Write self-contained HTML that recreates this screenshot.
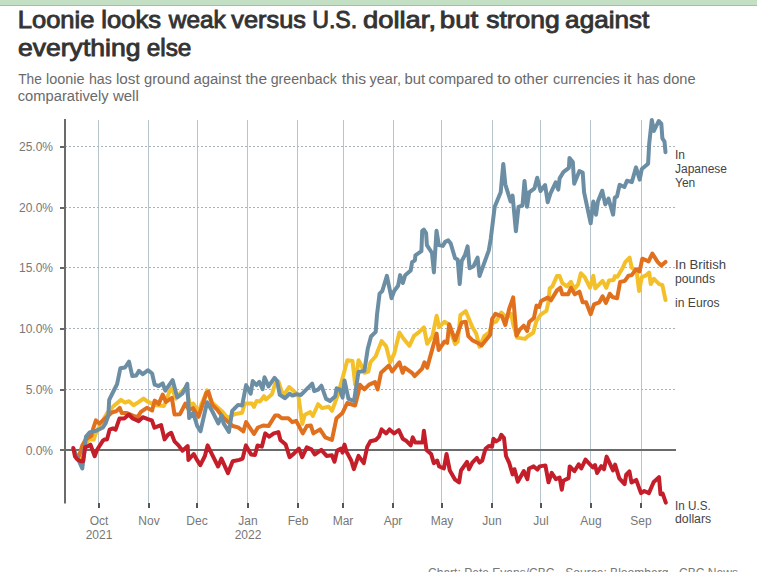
<!DOCTYPE html>
<html><head><meta charset="utf-8"><style>
html,body{margin:0;padding:0;background:#fff;}
body{width:757px;height:572px;overflow:hidden;position:relative;font-family:"Liberation Sans",sans-serif;}
.bar{position:absolute;left:0;top:0;width:757px;height:5px;background:#c4e0c4;border-bottom:1px solid #a9baa9;}
svg{position:absolute;left:0;top:0;}
text{font-family:"Liberation Sans",sans-serif;}
</style></head><body>
<div class="bar"></div>
<svg width="757" height="572" viewBox="0 0 757 572">
<line x1="98.5" y1="120" x2="98.5" y2="503" stroke="#b6c4cd" stroke-width="1"/>
<line x1="99" y1="503" x2="99" y2="508" stroke="#555" stroke-width="2"/>
<line x1="148.5" y1="120" x2="148.5" y2="503" stroke="#b6c4cd" stroke-width="1"/>
<line x1="149" y1="503" x2="149" y2="508" stroke="#555" stroke-width="2"/>
<line x1="197.5" y1="120" x2="197.5" y2="503" stroke="#b6c4cd" stroke-width="1"/>
<line x1="197" y1="503" x2="197" y2="508" stroke="#555" stroke-width="2"/>
<line x1="247.5" y1="120" x2="247.5" y2="503" stroke="#b6c4cd" stroke-width="1"/>
<line x1="248" y1="503" x2="248" y2="508" stroke="#555" stroke-width="2"/>
<line x1="297.5" y1="120" x2="297.5" y2="503" stroke="#b6c4cd" stroke-width="1"/>
<line x1="298" y1="503" x2="298" y2="508" stroke="#555" stroke-width="2"/>
<line x1="343.5" y1="120" x2="343.5" y2="503" stroke="#b6c4cd" stroke-width="1"/>
<line x1="343" y1="503" x2="343" y2="508" stroke="#555" stroke-width="2"/>
<line x1="393.5" y1="120" x2="393.5" y2="503" stroke="#b6c4cd" stroke-width="1"/>
<line x1="393" y1="503" x2="393" y2="508" stroke="#555" stroke-width="2"/>
<line x1="441.5" y1="120" x2="441.5" y2="503" stroke="#b6c4cd" stroke-width="1"/>
<line x1="442" y1="503" x2="442" y2="508" stroke="#555" stroke-width="2"/>
<line x1="492.5" y1="120" x2="492.5" y2="503" stroke="#b6c4cd" stroke-width="1"/>
<line x1="492" y1="503" x2="492" y2="508" stroke="#555" stroke-width="2"/>
<line x1="540.5" y1="120" x2="540.5" y2="503" stroke="#b6c4cd" stroke-width="1"/>
<line x1="541" y1="503" x2="541" y2="508" stroke="#555" stroke-width="2"/>
<line x1="590.5" y1="120" x2="590.5" y2="503" stroke="#b6c4cd" stroke-width="1"/>
<line x1="591" y1="503" x2="591" y2="508" stroke="#555" stroke-width="2"/>
<line x1="641.5" y1="120" x2="641.5" y2="503" stroke="#b6c4cd" stroke-width="1"/>
<line x1="641" y1="503" x2="641" y2="508" stroke="#555" stroke-width="2"/>
<line x1="65" y1="389.5" x2="675" y2="389.5" stroke="#a6b5bd" stroke-width="1" stroke-dasharray="2,2"/>
<line x1="60" y1="390.0" x2="65" y2="390.0" stroke="#666" stroke-width="2"/>
<line x1="65" y1="328.5" x2="675" y2="328.5" stroke="#a6b5bd" stroke-width="1" stroke-dasharray="2,2"/>
<line x1="60" y1="329.0" x2="65" y2="329.0" stroke="#666" stroke-width="2"/>
<line x1="65" y1="267.5" x2="675" y2="267.5" stroke="#a6b5bd" stroke-width="1" stroke-dasharray="2,2"/>
<line x1="60" y1="268.0" x2="65" y2="268.0" stroke="#666" stroke-width="2"/>
<line x1="65" y1="207.5" x2="675" y2="207.5" stroke="#a6b5bd" stroke-width="1" stroke-dasharray="2,2"/>
<line x1="60" y1="208.0" x2="65" y2="208.0" stroke="#666" stroke-width="2"/>
<line x1="65" y1="146.5" x2="675" y2="146.5" stroke="#a6b5bd" stroke-width="1" stroke-dasharray="2,2"/>
<line x1="60" y1="147.0" x2="65" y2="147.0" stroke="#666" stroke-width="2"/>
<line x1="65" y1="119" x2="65" y2="503.5" stroke="#6b6b6b" stroke-width="2"/>
<line x1="60" y1="450" x2="676" y2="450" stroke="#6b6b6b" stroke-width="2"/>
<polyline points="79.9,455 80.7,457.9 84,448 88.9,439 93.8,439.8 95.5,434 98.8,427.5 107.2,413.1 113.1,406.5 121,399.9 125,402.6 129,401.2 133.6,405.2 138.9,401.9 143.5,398.6 148.1,401.9 156,405.2 164,405.9 169.3,392 171.9,388 175.9,398.6 181.1,392 186,388 190,405 193.2,403.6 198.5,411.5 207.1,390.4 211.7,402.3 222.3,411.5 227.6,418.1 234.2,414.2 242.1,412.8 244.7,403.6 252,403.6 254,406.9 256.6,401 260,401.5 264,396.2 265.9,399.5 271.9,394.3 275.2,383.7 278.5,381.7 283.1,396.2 289.1,387 298.3,394.9 300.3,409.4 302.3,424 304.9,414.7 310.2,412.1 312.8,416 318.1,404.2 322.1,408.1 328.7,406.8 332,410.8 337.9,394.9 344,372.8 347.3,360.3 352.5,361 355.2,384.7 358.5,360.3 361.1,364.9 364.4,372.8 368.4,371.5 370.4,362.3 375.7,356.3 381.6,341.1 386.2,346.4 390.2,362.3 394.2,353.7 399.4,332.5 403.4,338.5 409.4,345.8 414,335.9 419.3,331.9 423.9,327.3 427.2,343.8 432.5,335.9 436.6,315.8 439.2,327 444.5,321.7 448.5,324.3 451.8,334.9 455.1,344.2 457.7,341.5 460.4,315.1 465.7,311.1 469.6,320.4 472.3,327 476.2,333.6 479.5,346.8 484.2,336.2 489.4,332.3 492.1,323 496.1,321.7 501.3,312.5 506.6,317.7 511.2,313.8 513.2,324.3 517.2,337.6 525.1,338.9 527.8,336.2 533.2,332.7 536.5,320.8 541.1,314.2 546.4,310.9 548.4,302.3 549.7,288.4 552.4,286.4 557,275.9 559.6,275.9 562.3,283.1 566.9,286.4 570.9,281.8 574.2,289.1 578.1,284.4 580.8,273.2 584.7,277.2 590,287.7 593.3,275.9 595.3,288.4 602.6,280.9 606.3,287.8 609,280.4 613.7,279.9 614.8,276.2 617.4,276.7 622.2,268.8 625.4,261.9 629.6,257.7 631.7,267.7 634.9,269.8 637,274.1 639.1,291 641.8,277.2 645.5,275.7 649.2,272.5 650.7,284.1 653.9,278.8 659.2,284.1 662.4,285.2 665.5,300" fill="none" stroke="#f4c02a" stroke-width="4" stroke-linejoin="round" stroke-linecap="round"/>
<polyline points="79,456 82.3,445.5 86,439 91.4,435.7 93,429.1 95.9,420.4 99.2,423.7 111.8,412.5 116.4,411.1 119.7,407.8 121.7,413.1 127,413.1 133.6,415.8 137.6,417.1 140.9,411.8 146.8,407.8 152.1,410.5 154.7,400.6 158.7,403.9 162.7,394.6 166,401.9 171.9,397.9 174.5,414.4 180,414.2 185.3,403.6 189,410 193,408 198.5,416.8 206.4,393 208.4,391.7 212.4,404.9 217.6,410.2 223.6,418.1 228.2,422.1 232.8,426 238.1,427.4 243.4,431.3 246.1,422.1 254,434 257.9,427.5 263.2,425.5 268.5,426.1 275.1,415.6 278.4,415.6 281.7,418.2 288.3,418.2 292.3,422.2 296.2,420.9 302.8,433.4 306.8,426.1 310.8,425.5 313.4,433.4 320,429.4 325.3,437.4 331.9,440 336.5,418.2 342.5,412.9 347.2,403 355.1,405.5 358.5,392 359.8,384.7 364.4,389.4 369.1,384.7 375,382.1 377.6,389.4 381,372.8 388.9,365.6 392.2,371.5 399.4,362.3 402.7,372.8 404.7,367.6 412,372.8 414.6,376.1 421.9,368.9 424.5,362.3 427.2,367.6 430,357.4 436.6,333.6 438.6,350.1 444.5,341.5 447.2,342.8 449.2,324.3 455.1,340.2 461.7,322.4 465.7,321.7 468.3,336.2 472.3,340.2 478.9,343.5 481.5,345.5 490.1,334.9 492.1,319.1 495.4,313.8 502,316.4 505.3,325 509.3,308.5 513.2,297.3 516.5,335.6 519.8,329.6 523.8,325.7 527.1,331 529.2,322.1 533.9,318.1 536.5,305.6 539.2,306.9 541.1,301 547.7,297.6 551,300.3 557,290.4 560.3,287.7 562.3,294.3 568.2,294.3 570.9,287.7 574.8,294.3 579.4,291.7 582.7,302.3 586.1,302.3 590.7,314.2 594,304.3 599.3,302.3 602.6,296.3 605.9,302.9 609.8,293.7 612.5,297 617.1,298.3 620.1,282 624.8,280.9 628.5,275.7 631.7,275.1 635.9,269.3 639.6,271.4 642.3,258.7 648.6,261.4 652.3,253.5 657.6,261.9 661.3,265.6 665.5,261.9" fill="none" stroke="#e0701e" stroke-width="4" stroke-linejoin="round" stroke-linecap="round"/>
<polyline points="73.5,449 78.2,459.5 82.3,468.5 86,436.5 89.7,432.4 92.2,431.6 96.3,430.8 102.9,427.5 105.7,423.1 108.3,415.9 109.2,399.9 113.1,392 117.1,384.1 120.4,368.2 125,367.5 129,361.6 132.3,376.1 136.2,375.5 138.9,370.9 142.8,374.2 148.1,370.2 152.1,373.5 154.7,384.7 158.7,386 162.7,383.4 165.3,390.7 172.6,380.1 177.2,397.3 182.5,393.3 187.3,383.8 189.2,418.1 193.2,412.8 197.2,426 200.5,431.3 207.1,402.3 212.4,411.5 218.3,423.4 221.6,415.5 223.6,423.4 228.9,432 232.2,410.9 238.1,404.9 242.1,405.6 246.1,385.1 250.7,393.7 252.7,381.1 256.6,385.1 259.3,381.8 262.6,389.1 264.5,377.2 268.5,386.4 274.5,377.8 277.1,381.1 279.8,394.9 285.1,398.2 289.7,393.6 292.4,395.6 296.3,394.3 301,394.9 306.2,389.6 312.2,383.7 314.2,391 318.1,389.6 321.4,385.7 326.1,398.9 330,400.9 335.3,396.2 336.6,388.3 339.9,389.6 342.6,397.6 344.5,380.4 348.5,398.9 354,401 358.5,372 364.4,370.9 367.7,349.1 371,336.5 375.7,331.9 377,314.7 379.6,293.6 382.3,291 386.9,275.8 391.5,298.2 394.2,291 398.1,285.7 400.1,275.1 402.9,283 405.2,275.2 410.7,270.5 412.1,262.2 414.9,260.4 415.4,255.3 421.4,251.1 422.2,230.8 423.8,229.7 426.1,233.2 426.9,245.1 432,253 433.9,272.4 436.5,230.8 438.8,245.1 442.8,245.9 445.2,241.9 448.3,240.4 450.7,243.5 455.1,258.3 457.7,259.6 459.7,284.1 461.7,261 465,255 467.6,246.4 469.6,268.2 473.6,266.2 477.6,257.6 479.5,276.1 488.8,250.4 490.8,238.5 494.7,206.8 500.7,192.3 503.3,163.9 505.3,184.3 510.6,201.5 512.6,195.6 515.9,231.2 518.5,206.8 522.5,205.5 524.5,181 527.1,206.8 529.2,192.3 534.5,188.3 537.2,177.7 540.5,191 545.1,185 547.7,202.2 550.4,193.6 555.7,182.4 558.3,189.6 559.6,178.4 563.6,171.8 568.9,167.8 569.5,157.9 572.8,161.9 574.2,183.7 579.4,171.1 582.7,172.5 584.1,192.3 590.7,223.3 593.3,201.5 596,214.7 597.9,201.5 602.2,190.7 605.3,204.4 608.5,198.6 613.1,214.7 614.8,197.6 617,196.5 619.6,184.9 624.4,187 627,180.7 631.8,182.2 636,167.4 639.7,179.6 641.8,169 648.1,163.7 649.2,143.7 651.8,119.9 653.9,131 658.7,121 661.3,123.6 662.4,138.4 664.5,141.6 665.5,152.2" fill="none" stroke="#6b8ea4" stroke-width="4" stroke-linejoin="round" stroke-linecap="round"/>
<polyline points="73.3,448 74.9,456.2 77.4,459.5 80.7,461.2 83.1,461.2 85.2,447.2 87.7,446.4 90.5,444.7 94.7,456.2 97.1,449.7 102.9,440.6 104.3,439.6 107,439.6 109.6,429.7 112.9,428.4 115.6,429.7 119.5,418.5 124.2,418.5 128.8,414.5 132.7,418.5 138.7,421.1 142.7,417.2 147.9,419.2 151.9,420.5 154.5,427.7 161.1,425.1 164.6,439.4 167.9,434.8 171.2,432.8 174.5,441.4 178.5,445.4 182.5,450.7 187.7,446 188.4,459.9 193.7,454 197,459.9 200.3,465.2 204.9,456 207.6,445.4 211.5,453.3 218.1,466.5 221.4,458.6 228,473.1 232.7,461.2 239.3,459.9 242.6,458.6 245.9,445.4 251.1,454.6 255,455 257.5,445.5 261.9,446.6 265.2,433.4 269.2,436.7 273.8,433.4 278.4,432.1 280.4,440 285.7,444.6 289.6,457.2 293.6,453.9 298.9,448.6 302.2,457.2 306.8,447.3 311.4,449.3 314.7,454.5 321.3,449.9 326.6,455.9 331.9,455.2 334.5,461.8 337.2,450.6 341.1,448.6 342.5,452.6 344.5,444.6 346.6,451.9 351.2,460.5 353.9,469.1 358.5,455.9 363.8,463.1 367.1,447.3 370.4,441.3 375.7,440 379,436.7 381.6,429.4 386.2,433.4 389.5,429.4 394.2,433.4 398.8,430.1 402.7,438.7 406.1,440.7 410.7,445.3 412.7,437.4 415.3,442.6 422.6,442.6 423.9,430.8 426.5,449.9 431.1,453.9 433.8,463.1 437.1,460.5 439.2,466.5 443.9,468.5 446.5,454 449.8,470.5 455.1,479.7 459.1,482.4 461,470.5 467,461.9 469,469.2 472.3,462.6 476.9,457.9 479.5,462.6 482.2,460.6 485.5,448.7 488.8,446 492.1,446.7 493.4,438.8 496.1,441.4 499.4,439.4 501.3,434.8 504,438.1 506,456 509.3,463.2 512.6,474.4 514.5,469.2 517.8,481.7 523.8,471.1 527.4,479.1 529,468.5 533.7,466.4 537.4,469.6 539.6,466.4 545.4,465.4 548.5,482.3 551.7,472.8 555.9,479.1 559.6,477.5 561.8,489.7 563.3,480.7 568.6,478.1 569.7,466.4 574.4,471.2 578.7,464.3 581.3,468.5 585.5,459.6 592.9,467.5 595,465.1 597.1,473 601.3,466.1 604,469.3 606.6,456.6 613,470.4 615.1,464.6 619.3,478.3 624.6,484.1 626.2,474.6 629.4,471.4 631.5,482.5 636.2,479.9 641,493.1 644.2,491 648.9,493.1 653.7,482 659,477.2 660.5,494.2 662.7,493.6 665.8,502.6" fill="none" stroke="#c41e2a" stroke-width="4" stroke-linejoin="round" stroke-linecap="round"/>
<text transform="translate(17.71,27.8) scale(1.1125,1.0)" font-size="23" font-weight="normal" fill="#333" stroke="#333" stroke-width="0.85">Loonie</text>
<text transform="translate(101.33,27.8) scale(1.1114,1.0)" font-size="23" font-weight="normal" fill="#333" stroke="#333" stroke-width="0.85">looks</text>
<text transform="translate(168.80,27.8) scale(1.0623,1.0)" font-size="23" font-weight="normal" fill="#333" stroke="#333" stroke-width="0.85">weak</text>
<text transform="translate(231.36,27.8) scale(1.1021,1.0)" font-size="23" font-weight="normal" fill="#333" stroke="#333" stroke-width="0.85">versus</text>
<text transform="translate(312.17,27.8) scale(1.0079,1.0)" font-size="23" font-weight="normal" fill="#333" stroke="#333" stroke-width="0.85">U.S.</text>
<text transform="translate(362.96,27.8) scale(1.1915,1.0)" font-size="23" font-weight="normal" fill="#333" stroke="#333" stroke-width="0.85">dollar,</text>
<text transform="translate(439.80,27.8) scale(1.2016,1.0)" font-size="23" font-weight="normal" fill="#333" stroke="#333" stroke-width="0.85">but</text>
<text transform="translate(486.18,27.8) scale(1.1523,1.0)" font-size="23" font-weight="normal" fill="#333" stroke="#333" stroke-width="0.85">strong</text>
<text transform="translate(565.10,27.8) scale(1.1372,1.0)" font-size="23" font-weight="normal" fill="#333" stroke="#333" stroke-width="0.85">against</text>
<text transform="translate(17.99,55.8) scale(1.1547,1.0)" font-size="23" font-weight="normal" fill="#333" stroke="#333" stroke-width="0.85">everything</text>
<text transform="translate(146.67,55.8) scale(1.0601,1.0)" font-size="23" font-weight="normal" fill="#333" stroke="#333" stroke-width="0.85">else</text>
<text transform="translate(18.16,83.9) scale(0.9451,1.0)" font-size="14.5" font-weight="normal" fill="#6a6a6a">The</text>
<text transform="translate(45.93,83.9) scale(0.9960,1.0)" font-size="14.5" font-weight="normal" fill="#6a6a6a">loonie</text>
<text transform="translate(88.92,83.9) scale(0.9783,1.0)" font-size="14.5" font-weight="normal" fill="#6a6a6a">has</text>
<text transform="translate(115.98,83.9) scale(1.0543,1.0)" font-size="14.5" font-weight="normal" fill="#6a6a6a">lost</text>
<text transform="translate(143.99,83.9) scale(1.0194,1.0)" font-size="14.5" font-weight="normal" fill="#6a6a6a">ground</text>
<text transform="translate(193.46,83.9) scale(1.0276,1.0)" font-size="14.5" font-weight="normal" fill="#6a6a6a">against</text>
<text transform="translate(245.57,83.9) scale(1.0684,1.0)" font-size="14.5" font-weight="normal" fill="#6a6a6a">the</text>
<text transform="translate(270.71,83.9) scale(0.9770,1.0)" font-size="14.5" font-weight="normal" fill="#6a6a6a">greenback</text>
<text transform="translate(341.66,83.9) scale(1.0864,1.0)" font-size="14.5" font-weight="normal" fill="#6a6a6a">this</text>
<text transform="translate(369.60,83.9) scale(0.9983,1.0)" font-size="14.5" font-weight="normal" fill="#6a6a6a">year,</text>
<text transform="translate(404.40,83.9) scale(1.0286,1.0)" font-size="14.5" font-weight="normal" fill="#6a6a6a">but</text>
<text transform="translate(428.47,83.9) scale(1.0079,1.0)" font-size="14.5" font-weight="normal" fill="#6a6a6a">compared</text>
<text transform="translate(497.17,83.9) scale(1.1144,1.0)" font-size="14.5" font-weight="normal" fill="#6a6a6a">to</text>
<text transform="translate(514.16,83.9) scale(1.0295,1.0)" font-size="14.5" font-weight="normal" fill="#6a6a6a">other</text>
<text transform="translate(552.98,83.9) scale(0.9977,1.0)" font-size="14.5" font-weight="normal" fill="#6a6a6a">currencies</text>
<text transform="translate(623.42,83.9) scale(1.1144,1.0)" font-size="14.5" font-weight="normal" fill="#6a6a6a">it</text>
<text transform="translate(636.73,83.9) scale(0.9691,1.0)" font-size="14.5" font-weight="normal" fill="#6a6a6a">has</text>
<text transform="translate(663.10,83.9) scale(1.0088,1.0)" font-size="14.5" font-weight="normal" fill="#6a6a6a">done</text>
<text transform="translate(17.76,100.6) scale(1.0163,1.0)" font-size="14.5" font-weight="normal" fill="#6a6a6a">comparatively</text>
<text transform="translate(112.90,100.6) scale(1.0375,1.0)" font-size="14.5" font-weight="normal" fill="#6a6a6a">well</text>
<text x="53" y="151.0" font-size="12" fill="#777" font-weight="normal" text-anchor="end">25.0%</text>
<text x="53" y="212.0" font-size="12" fill="#777" font-weight="normal" text-anchor="end">20.0%</text>
<text x="53" y="272.0" font-size="12" fill="#777" font-weight="normal" text-anchor="end">15.0%</text>
<text x="53" y="333.0" font-size="12" fill="#777" font-weight="normal" text-anchor="end">10.0%</text>
<text x="53" y="394.0" font-size="12" fill="#777" font-weight="normal" text-anchor="end">5.0%</text>
<text x="53" y="454.5" font-size="12" fill="#777" font-weight="normal" text-anchor="end">0.0%</text>
<text x="99" y="524.8" font-size="12" fill="#777" font-weight="normal" text-anchor="middle">Oct</text>
<text x="99" y="539.4" font-size="12" fill="#777" font-weight="normal" text-anchor="middle">2021</text>
<text x="149" y="524.8" font-size="12" fill="#777" font-weight="normal" text-anchor="middle">Nov</text>
<text x="197" y="524.8" font-size="12" fill="#777" font-weight="normal" text-anchor="middle">Dec</text>
<text x="248" y="524.8" font-size="12" fill="#777" font-weight="normal" text-anchor="middle">Jan</text>
<text x="248" y="539.4" font-size="12" fill="#777" font-weight="normal" text-anchor="middle">2022</text>
<text x="298" y="524.8" font-size="12" fill="#777" font-weight="normal" text-anchor="middle">Feb</text>
<text x="343" y="524.8" font-size="12" fill="#777" font-weight="normal" text-anchor="middle">Mar</text>
<text x="393" y="524.8" font-size="12" fill="#777" font-weight="normal" text-anchor="middle">Apr</text>
<text x="442" y="524.8" font-size="12" fill="#777" font-weight="normal" text-anchor="middle">May</text>
<text x="492" y="524.8" font-size="12" fill="#777" font-weight="normal" text-anchor="middle">Jun</text>
<text x="541" y="524.8" font-size="12" fill="#777" font-weight="normal" text-anchor="middle">Jul</text>
<text x="591" y="524.8" font-size="12" fill="#777" font-weight="normal" text-anchor="middle">Aug</text>
<text x="641" y="524.8" font-size="12" fill="#777" font-weight="normal" text-anchor="middle">Sep</text>
<text x="675" y="158.9" font-size="12" fill="#444" font-weight="normal" text-anchor="start">In</text>
<text x="675" y="172.7" font-size="12" fill="#444" font-weight="normal" text-anchor="start" textLength="52" lengthAdjust="spacingAndGlyphs">Japanese</text>
<text x="675" y="186.6" font-size="12" fill="#444" font-weight="normal" text-anchor="start">Yen</text>
<text x="675" y="269" font-size="12" fill="#444" font-weight="normal" text-anchor="start" textLength="51" lengthAdjust="spacingAndGlyphs">In British</text>
<text x="675" y="282.8" font-size="12" fill="#444" font-weight="normal" text-anchor="start" textLength="40" lengthAdjust="spacingAndGlyphs">pounds</text>
<text x="675" y="306.5" font-size="12" fill="#444" font-weight="normal" text-anchor="start" textLength="44.5" lengthAdjust="spacingAndGlyphs">in Euros</text>
<text x="675" y="509.9" font-size="12" fill="#444" font-weight="normal" text-anchor="start" textLength="35.8" lengthAdjust="spacingAndGlyphs">In U.S.</text>
<text x="675" y="523.3" font-size="12" fill="#444" font-weight="normal" text-anchor="start" textLength="36.2" lengthAdjust="spacingAndGlyphs">dollars</text>
<text x="428" y="577" font-size="12" fill="#777" font-weight="normal" text-anchor="start" textLength="310" lengthAdjust="spacingAndGlyphs">Chart: Pete Evans/CBC · Source: Bloomberg · CBC News</text>
</svg>
</body></html>
